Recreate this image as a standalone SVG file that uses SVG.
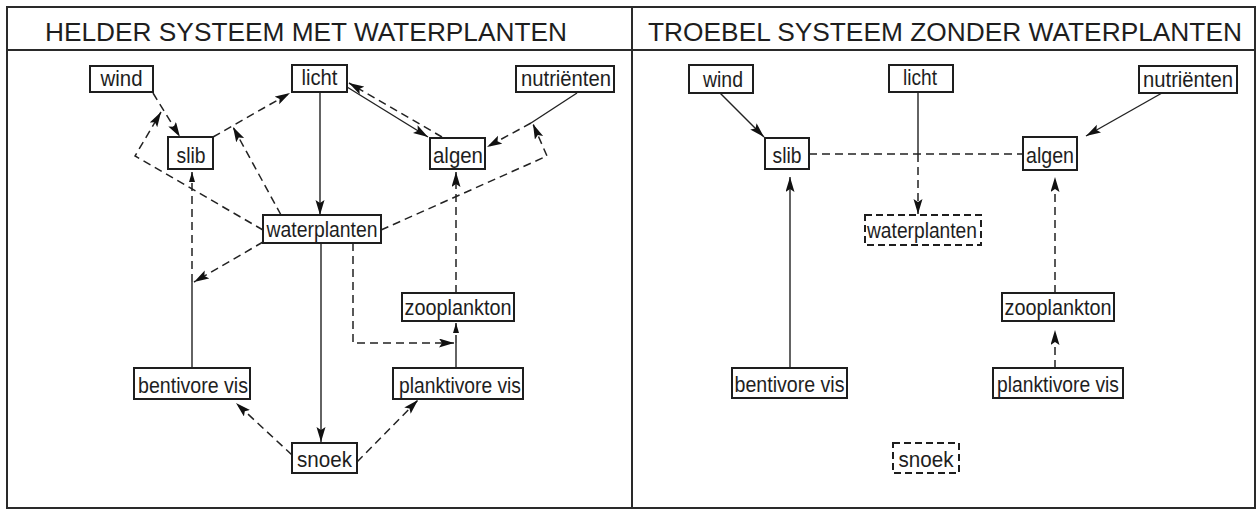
<svg xmlns="http://www.w3.org/2000/svg" width="1258" height="510" viewBox="0 0 1258 510">
<defs>
<style>
.frame{fill:none;stroke:#2a2a2a;stroke-width:2}
.box{fill:#fff;stroke:#1e1e1e;stroke-width:2}
.dbox{fill:#fff;stroke:#1e1e1e;stroke-width:2;stroke-dasharray:7 4}
.t{font-family:"Liberation Sans",Arial,sans-serif;font-size:22px;fill:#1e1e1e;text-anchor:middle}
.title{font-family:"Liberation Sans",Arial,sans-serif;font-size:26px;fill:#1e1e1e}
.s{fill:none;stroke:#222;stroke-width:1.4}
.d{fill:none;stroke:#222;stroke-width:1.5;stroke-dasharray:8 5}
</style>
<marker id="ah" markerUnits="userSpaceOnUse" markerWidth="17" markerHeight="10" refX="15" refY="4.5" orient="auto">
<path d="M0,0 L15,4.5 L0,9 L3,4.5 z" fill="#111"/>
</marker>
<marker id="ahs" markerUnits="userSpaceOnUse" markerWidth="12" markerHeight="8" refX="10" refY="3" orient="auto">
<path d="M0,0 L10,3 L0,6 z" fill="#111"/>
</marker>
</defs>

<g id="frame">
<rect class="frame" x="7" y="7" width="1248" height="501"/>
<line class="frame" x1="7" y1="50" x2="1255" y2="50"/>
<line class="frame" x1="632" y1="7" x2="632" y2="508"/>
<text class="title" x="45" y="41" textLength="522" lengthAdjust="spacingAndGlyphs">HELDER SYSTEEM MET WATERPLANTEN</text>
<text class="title" x="648" y="41" textLength="594" lengthAdjust="spacingAndGlyphs">TROEBEL SYSTEEM ZONDER WATERPLANTEN</text>
</g>

<g id="connectors">
<path class="d" d="M153,93 L180,137" marker-end="url(#ah)"/>
<path class="d" d="M263,230 L135,156 L161,112" marker-end="url(#ah)"/>
<path class="d" d="M213,137 L290,93" marker-end="url(#ah)"/>
<path class="d" d="M281,215 L233,127" marker-end="url(#ah)"/>
<path class="s" d="M320,92 L320,215" marker-end="url(#ah)"/>
<path class="s" d="M347,87 L428,137" marker-end="url(#ah)"/>
<path class="d" d="M442,137 L349,83" marker-end="url(#ah)"/>
<path class="s" d="M577,93 L531,123"/>
<path class="d" d="M531,123 L487,147" marker-end="url(#ah)"/>
<path class="d" d="M381,230 L547,156 L533,124" marker-end="url(#ah)"/>
<path class="s" d="M192,368 L192,282"/>
<path class="d" d="M192,282 L192,172" marker-end="url(#ahs)"/>
<path class="d" d="M263,242 L194,282" marker-end="url(#ah)"/>
<path class="s" d="M321,243 L321,442" marker-end="url(#ah)"/>
<path class="d" d="M353,243 L353,343 L454,343" marker-end="url(#ah)"/>
<path class="s" d="M456,368 L456,343"/>
<path class="d" d="M456,343 L456,323" marker-end="url(#ahs)"/>
<path class="d" d="M456,293 L456,172" marker-end="url(#ah)"/>
<path class="d" d="M292,455 L236,403" marker-end="url(#ah)"/>
<path class="d" d="M357,462 L418,400" marker-end="url(#ah)"/>
<path class="s" d="M720,93 L764,137" marker-end="url(#ah)"/>
<path class="d" d="M809,154 L1023,154"/>
<path class="s" d="M918,92 L918,154"/>
<path class="d" d="M918,154 L918,214" marker-end="url(#ah)"/>
<path class="s" d="M1162,93 L1086,136" marker-end="url(#ah)"/>
<path class="s" d="M790,368 L790,177" marker-end="url(#ah)"/>
<path class="d" d="M1055,293 L1055,177" marker-end="url(#ah)"/>
<path class="d" d="M1055,368 L1055,330" marker-end="url(#ah)"/>
</g>

<g id="l-wind"><rect class="box" x="90" y="66" width="63" height="26"/><text class="t" x="121.5" y="86" textLength="42" lengthAdjust="spacingAndGlyphs">wind</text></g>
<g id="l-licht"><rect class="box" x="292" y="65" width="55" height="27"/><text class="t" x="319.5" y="85" textLength="36" lengthAdjust="spacingAndGlyphs">licht</text></g>
<g id="l-nutrienten"><rect class="box" x="516" y="66" width="98" height="26"/><text class="t" x="566" y="86" textLength="90" lengthAdjust="spacingAndGlyphs">nutriënten</text></g>
<g id="l-slib"><rect class="box" x="168" y="137" width="45" height="32"/><text class="t" x="191" y="163" textLength="29" lengthAdjust="spacingAndGlyphs">slib</text></g>
<g id="l-algen"><rect class="box" x="430" y="138" width="55" height="31"/><text class="t" x="458" y="163" textLength="50" lengthAdjust="spacingAndGlyphs">algen</text></g>
<g id="l-waterplanten"><rect class="box" x="263" y="215" width="118" height="28"/><text class="t" x="322" y="237" textLength="111" lengthAdjust="spacingAndGlyphs">waterplanten</text></g>
<g id="l-zooplankton"><rect class="box" x="402" y="293" width="112" height="28"/><text class="t" x="458" y="315" textLength="107" lengthAdjust="spacingAndGlyphs">zooplankton</text></g>
<g id="l-bentivore"><rect class="box" x="134" y="368" width="116" height="31"/><text class="t" x="193" y="393" textLength="110" lengthAdjust="spacingAndGlyphs">bentivore vis</text></g>
<g id="l-planktivore"><rect class="box" x="393" y="368" width="130" height="31"/><text class="t" x="460" y="393" textLength="122" lengthAdjust="spacingAndGlyphs">planktivore vis</text></g>
<g id="l-snoek"><rect class="box" x="292" y="443" width="65" height="30"/><text class="t" x="324.5" y="467" textLength="55" lengthAdjust="spacingAndGlyphs">snoek</text></g>

<g id="r-wind"><rect class="box" x="689" y="65" width="64" height="28"/><text class="t" x="723" y="87" textLength="40" lengthAdjust="spacingAndGlyphs">wind</text></g>
<g id="r-licht"><rect class="box" x="889" y="65" width="64" height="27"/><text class="t" x="920" y="85" textLength="34" lengthAdjust="spacingAndGlyphs">licht</text></g>
<g id="r-nutrienten"><rect class="box" x="1139" y="66" width="98" height="27"/><text class="t" x="1188" y="87" textLength="90" lengthAdjust="spacingAndGlyphs">nutriënten</text></g>
<g id="r-slib"><rect class="box" x="765" y="138" width="44" height="31"/><text class="t" x="787" y="163" textLength="29" lengthAdjust="spacingAndGlyphs">slib</text></g>
<g id="r-algen"><rect class="box" x="1023" y="137" width="54" height="33"/><text class="t" x="1050" y="163" textLength="48" lengthAdjust="spacingAndGlyphs">algen</text></g>
<g id="r-waterplanten"><rect class="dbox" x="865" y="215" width="116" height="30"/><text class="t" x="922" y="238" textLength="110" lengthAdjust="spacingAndGlyphs">waterplanten</text></g>
<g id="r-zooplankton"><rect class="box" x="1002" y="293" width="112" height="28"/><text class="t" x="1058" y="315" textLength="107" lengthAdjust="spacingAndGlyphs">zooplankton</text></g>
<g id="r-bentivore"><rect class="box" x="732" y="368" width="115" height="30"/><text class="t" x="789.5" y="392" textLength="110" lengthAdjust="spacingAndGlyphs">bentivore vis</text></g>
<g id="r-planktivore"><rect class="box" x="993" y="368" width="130" height="30"/><text class="t" x="1058" y="392" textLength="122" lengthAdjust="spacingAndGlyphs">planktivore vis</text></g>
<g id="r-snoek"><rect class="dbox" x="893" y="443" width="66" height="30"/><text class="t" x="926" y="467" textLength="55" lengthAdjust="spacingAndGlyphs">snoek</text></g>
</svg>
